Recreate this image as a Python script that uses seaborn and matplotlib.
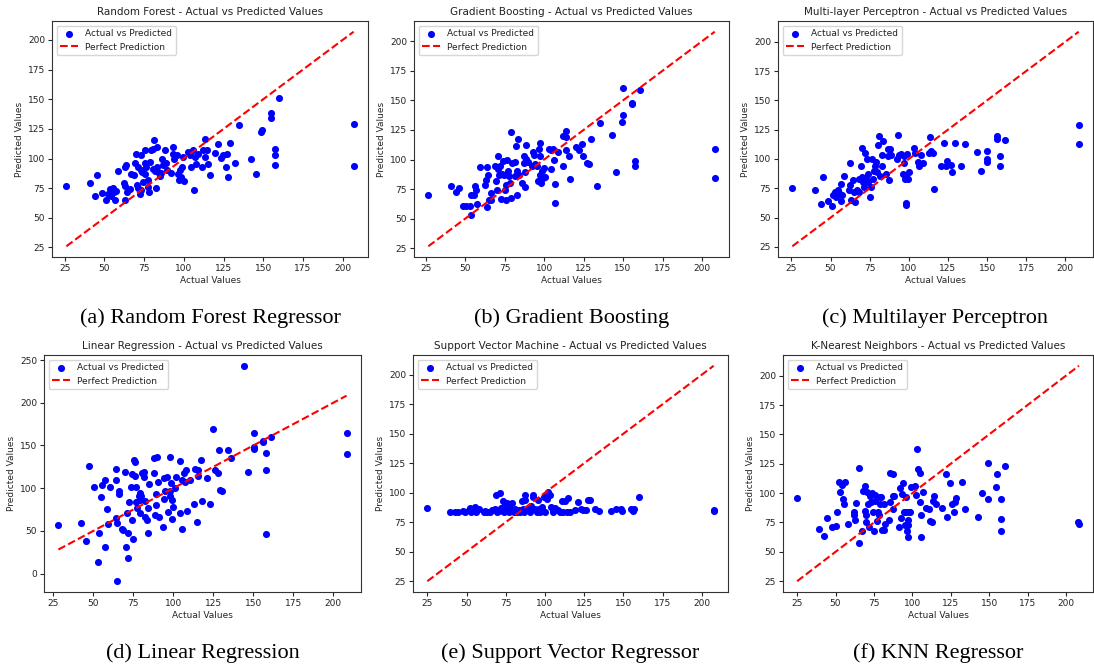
import matplotlib
matplotlib.use("Agg")
import matplotlib.pyplot as plt
import seaborn as sns

# --- DATA ---
RF_ACTUAL = [26, 40.7, 45.5, 43.9, 48.7, 51.2, 53.4, 52.2, 54.3, 55.4,
             56, 56.9, 57.3, 58.5, 62.3, 62.7, 63.1, 63.8, 63.1, 64.4,
             65.9, 66.9, 68.6, 70.1, 69.4, 71.1, 70.7, 71.1, 72.2, 73.2,
             72.8, 73.6, 74.3, 73.2, 75.4, 75.8, 76.4, 75.8, 77.1, 77.5,
             78, 78.6, 79.3, 80.8, 81.4, 80.3, 81.8, 82.8, 82.8, 83.8,
             82.4, 84.9, 85.5, 86.3, 87, 88, 88.5, 89.1, 91.8, 92.9,
             93.3, 94, 95.4, 96.1, 96.9, 98.2, 97.6, 98.6, 100.3, 99.6,
             102.7, 103.8, 104.4, 105.9, 106.5, 107, 107.4, 108.7, 111.6, 112.2,
             113.3, 113.3, 114.4, 115.4, 116.5, 119.7, 121.8, 123.4, 124.9, 126.3,
             127, 127.6, 129.1, 132.3, 134.6, 142.4, 145.2, 148.7, 149.1, 155,
             155, 157.1, 157.1, 157.1, 160.2, 206.9, 206.9]
RF_PRED = [76.9, 79, 85.9, 68, 71.3, 64.6, 74.1, 69.9, 68.5, 75.2,
           71.8, 64.8, 72.9, 89.2, 79.7, 76.9, 92.9, 94.3, 64.8, 71.8,
           74.6, 86.7, 85.9, 103.5, 96.5, 92.9, 78, 75.2, 70.4, 102.7,
           90.1, 88.7, 80.3, 73.2, 106.9, 96.5, 92.9, 87.3, 81.7, 76.1,
           71.8, 97.1, 106.9, 107.7, 115.3, 91.5, 89.2, 110, 92.9, 88.7,
           75.2, 85.3, 88.1, 99.9, 94.3, 106.9, 96.5, 90.1, 88.1, 104.1,
           109.7, 99.9, 102.7, 87.3, 81.7, 84.5, 90.1, 92.9, 80.8, 101.3,
           105.5, 102.7, 92.9, 106.9, 73.2, 101.3, 95.7, 104.1, 92.9, 106.9,
           116.2, 101.3, 106.9, 95.7, 86.4, 104.9, 112.5, 100.4, 102.7, 92.9,
           104.1, 84.5, 113.4, 96.5, 128.5, 99.9, 86.7, 122.3, 123.7, 138.3,
           134.4, 108.3, 102.7, 94.8, 150.9, 129.3, 93.7]

GB_ACTUAL = [26.7, 41, 44.1, 46, 48.7, 50.8, 52.9, 53.6, 53.6, 55.5,
             56.1, 57.1, 57.6, 59.2, 62.4, 63, 63.9, 63.9, 64.5, 65.1,
             66.6, 66.6, 68.7, 69.3, 70.2, 70.8, 70.8, 71.4, 72.3, 72.9,
             73.5, 73.9, 74.4, 75, 75.6, 75.6, 76.5, 77.1, 77.7, 78.2,
             79.2, 79.2, 79.8, 81.3, 81.3, 81.9, 82.8, 82.8, 83.4, 84,
             86.1, 87, 87, 87.6, 88.2, 88.7, 88.7, 89.8, 92.4, 92.9,
             93.3, 94.5, 95.4, 96, 96.6, 97.1, 97.5, 97.5, 98.1, 98.7,
             99.6, 100.2, 100.8, 102.9, 104.4, 104.4, 105.9, 106.5, 107.1, 107.1,
             108.6, 112.2, 112.2, 113.9, 113.9, 113.9, 116, 116.4, 120.2, 122.3,
             124, 124.8, 126.9, 128.2, 129.6, 133.2, 135.3, 143.3, 145.8, 149.6,
             150, 150, 155.5, 155.5, 157.6, 157.6, 160.9, 208, 208]
GB_PRED = [69.9, 78, 72.4, 76.3, 60.6, 60.6, 60.6, 52.8, 70.4, 70.4,
           78, 74.6, 62, 93.7, 78.9, 82.5, 93.7, 60.1, 87.3, 65.7,
           71.3, 66.2, 94.3, 81.7, 74.1, 102.7, 92, 87.3, 94.3, 66.8,
           88.1, 98.5, 87.3, 74.6, 78.9, 66.2, 99.9, 90.1, 85.9, 80.3,
           122.9, 67.6, 97.1, 97.6, 85.9, 111.1, 70.4, 90.1, 117.3, 87.3,
           80.3, 102.7, 97.1, 89.2, 76.9, 112.5, 100.4, 97.6, 94.3, 106.1,
           104.1, 96.5, 94.8, 81.7, 108.9, 102.7, 113.9, 87.3, 80.3, 90.1,
           84.5, 92.9, 85.3, 108.9, 108.3, 92, 108.9, 99.9, 63.4, 79.7,
           106.1, 94.3, 119.5, 123.7, 108.3, 119, 102.7, 83.6, 110.5, 107.7,
           113.4, 102.7, 97.1, 96.5, 117.3, 77.5, 130.7, 120.4, 89.2, 131.3,
           137.7, 160.7, 148.1, 147, 98.5, 94.8, 158.8, 108.9, 84.5]

MLP_ACTUAL = [25.6, 40.3, 43.7, 45.2, 48.3, 50.9, 51.5, 53, 53.6, 54.7,
              55.8, 56.8, 56.8, 57.2, 58.5, 62.1, 62.7, 62.7, 63.2, 64.2,
              64.9, 65.9, 67, 67.9, 68.5, 69.5, 70, 70, 70.6, 71.2,
              72.1, 72.7, 73.4, 73.8, 74.2, 74.9, 75.9, 76.3, 77, 77.6,
              78.5, 79.1, 79.7, 80.2, 81.2, 81.9, 82.7, 82.9, 83.3, 85.5,
              86.5, 86.5, 87.6, 88.2, 88.6, 92.5, 93.3, 93.9, 95, 96.1,
              96.7, 97.1, 97.5, 98.2, 98.2, 98.2, 98.8, 99.2, 100.3, 103.5,
              103.9, 105.6, 106.7, 107.7, 108.8, 113.7, 113, 114.1, 115.2, 116.2,
              120.5, 122.2, 123.7, 124.7, 126.8, 127.9, 129.4, 133.2, 135.7, 143.4,
              145.9, 149.7, 150.1, 150.1, 156.1, 156.5, 158.2, 158.2, 161.2, 208.5,
              208.5]
MLP_PRED = [75.2, 73.5, 62, 84.5, 64, 60.1, 69.6, 71.8, 67.6, 73.2,
            70.4, 64, 78.9, 69, 85.9, 73.2, 96.2, 77.5, 64.8, 81.7,
            71.8, 63.4, 73.2, 83.1, 71.8, 94.3, 109.7, 84.5, 80.3, 76.1,
            105.5, 83.9, 99.9, 80.3, 87.3, 67.6, 76.1, 99.9, 83.1, 90.1,
            94.3, 97.1, 88.7, 111.7, 119.5, 85.9, 94.3, 103.3, 115.3, 87.3,
            102.7, 108.9, 82.5, 108.9, 103.3, 99.9, 120.4, 103.3, 104.1, 87.3,
            102.7, 96.5, 83.1, 62.9, 60.6, 85.9, 104.1, 83.1, 89.2, 109.7,
            104.9, 97.6, 94.3, 103.3, 96.5, 119, 105.5, 106.9, 105.5, 74.6,
            94.3, 113.4, 94.3, 98.5, 94.8, 88.7, 113.9, 93.7, 112.5, 106.1,
            90.1, 97.6, 106.9, 100.4, 119.5, 117.3, 102.7, 93.7, 116.2, 129.3,
            112.5]

LR_ACTUAL = [28.1, 42.3, 45.5, 47.3, 50.5, 52.8, 53.6, 54.7, 55.3, 57.2,
             57.2, 58.4, 58.8, 60.5, 63.8, 64.3, 64.3, 64.7, 65.7, 66,
             64.7, 67.8, 68.4, 69.9, 70.5, 70.9, 71.4, 71.6, 72, 73.7,
             74.1, 74.1, 74.7, 75.2, 75.8, 76.2, 76.8, 76.8, 77.2, 78.2,
             78.9, 79.3, 79.3, 79.9, 80.4, 81.4, 81.4, 82.5, 82.5, 83.5,
             83.9, 83.9, 84.5, 87.6, 87.6, 88.7, 89.3, 89.3, 89.7, 90.2,
             90.8, 93.3, 93.9, 94.4, 95, 96, 96.7, 97.7, 97.7, 98.1,
             98.6, 99.2, 99.2, 99.8, 101.3, 101.9, 104, 104.3, 105.4, 105.6,
             106.9, 107.5, 108.1, 108.6, 110.2, 113.1, 113.8, 114.8, 115.3, 115.5,
             117, 118, 121.1, 123.2, 124.8, 126.3, 127.7, 128.4, 129, 130.5,
             134, 136.3, 144, 146.7, 150.7, 150.7, 150.7, 156.1, 156.1, 158.2,
             158.2, 158.2, 161.1, 208.3, 208.3]
LR_PRED = [56.9, 59.7, 38.5, 126.4, 101.3, 13.3, 47.1, 89.5, 103.6, 109.1,
           30.6, 75.7, 57.7, 101.3, 122.5, 109.9, 64.8, 59.7, 96.2, 93.4,
           -9, 51.8, 51, 118.5, 30.6, 71.4, 47.1, 17.7, 83.2, 101.3,
           116.9, 62.8, 40, 132.7, 114.6, 131.1, 101.3, 83.2, 76.5, 90.3,
           70.6, 94.2, 86.3, 90.3, 117.7, 113, 118.5, 84.4, 66.7, 62.8,
           76.5, 47.1, 105.2, 135.4, 117.7, 68.7, 92.6, 80.5, 136.6, 106.7,
           66.7, 54.2, 87.1, 111.9, 96.2, 113, 72.6, 136.6, 96.2, 91.1,
           106, 63.6, 86.3, 77.7, 100.1, 113, 131.5, 70.6, 51.8, 109.9,
           117.7, 106.7, 121.7, 73.8, 109.9, 81.2, 122.5, 60.8, 113.8, 121.7,
           133.4, 84.4, 111.9, 81.6, 169.5, 121.7, 117.7, 145.2, 98.1, 96.2,
           144.4, 135.4, 243.3, 119.3, 148.4, 164, 146, 155, 153.8, 141.3,
           121.7, 46.3, 160.1, 164.8, 140.5]

SVR_ACTUAL = [25, 39.4, 42.6, 44.5, 47.6, 49.3, 51.4, 52.1, 53.1, 54.6,
              55.7, 56.1, 57.8, 61, 62, 63.1, 65.2, 66.3, 68, 68.8,
              69.4, 70.5, 71.5, 72.2, 73, 73.7, 74.3, 75.1, 75.8, 76.8,
              77.9, 78.9, 80, 81.1, 82.1, 83.2, 84.2, 85.3, 85.7, 86.4,
              87, 87.4, 88.5, 90.6, 91.2, 92.1, 92.7, 93.8, 94.8, 95.5,
              95.9, 97, 98, 99.1, 100.1, 101.2, 102.2, 103.3, 103.9, 105,
              105.4, 106.5, 108.2, 109.7, 110.7, 111.8, 112.8, 113.9, 115, 116,
              119.2, 121.3, 123, 124.5, 126, 127.2, 128.7, 131.9, 134.6, 142,
              145, 148.4, 149.2, 154.7, 156.2, 156.8, 159.8, 207.6, 207.6]
SVR_PRED = [87.1, 83.8, 83.8, 83.8, 84.3, 83.8, 85.2, 87.1, 83.8, 84.3,
            88, 83.8, 86, 83.8, 84.3, 83.8, 83.8, 85.2, 86, 98.3,
            83.8, 84.3, 100, 87.1, 92.7, 83.8, 90, 85.2, 91.6, 83.8,
            86.6, 91.6, 83.8, 86, 83.8, 85.2, 83.8, 92.7, 86.6, 83.8,
            97.8, 93.6, 86.6, 83.8, 88.8, 97.8, 96.4, 86.6, 83.8, 93.6,
            86.6, 83.8, 88, 96.4, 83.8, 95, 100.6, 97.8, 88, 85.2,
            83.8, 87.1, 85.2, 83.8, 92.7, 83.8, 92.7, 83.8, 95.5, 83.8,
            85.2, 92.2, 86.6, 85.2, 85.2, 93.6, 93.9, 86.6, 84.3, 84.3,
            86.6, 86.6, 84.3, 86.6, 84.3, 86.6, 96.1, 84.3, 85.2]

KNN_ACTUAL = [25, 39.5, 42.6, 44.6, 47.8, 50.1, 51, 52, 52.6, 54.1,
              54.8, 55.8, 56.3, 58, 61.8, 62.6, 63.3, 62.2, 65.4, 65.4,
              67.5, 68.2, 69, 69, 69.7, 69.7, 70.7, 71.1, 71.8, 72.4,
              72.8, 73.9, 74.5, 75, 75.4, 76, 77.1, 77.5, 78.2, 78.8,
              79.2, 79.6, 80.3, 81.3, 81.3, 82.4, 84.5, 85.6, 85.6, 87.3,
              87.3, 87.7, 88.2, 91, 92, 92.6, 93, 94.1, 94.5, 95.2,
              95.8, 96.2, 96.7, 96.9, 97.3, 97.3, 98, 98.8, 99.4, 101.6,
              102.2, 103.1, 103.7, 104.7, 105.2, 105.8, 105.8, 106.9, 108.6, 111.1,
              111.5, 112.8, 113.2, 114.3, 115.4, 119.6, 121.7, 122.8, 124.3, 126,
              127.1, 127.7, 128.6, 132.4, 134.5, 142.6, 145.6, 149.4, 149.4, 154.7,
              155.3, 157.5, 157.5, 157.5, 160.4, 207.8, 208.4]
KNN_PRED = [96.1, 69.8, 63.6, 78.7, 71.2, 71.7, 84.3, 109.5, 101.1, 106.7,
            95, 90.8, 109.5, 74, 81, 76.8, 91.6, 83.8, 121.6, 57.2,
            67.5, 102, 106.2, 85.2, 81, 75.4, 100.6, 90.8, 71.2, 97.8,
            92.2, 100, 83.8, 67.5, 93.4, 98.3, 75.9, 83.8, 81, 96.5,
            90.8, 96.4, 68.4, 68.4, 90.8, 74, 76.8, 92.2, 116.8, 116,
            97.8, 86.6, 97.2, 71.2, 104, 78.7, 99.2, 108.4, 83.8, 73.1,
            96.4, 83.8, 67.5, 62.8, 76.8, 72.6, 83.8, 83.8, 104.8, 106.2,
            98.3, 137.6, 120.8, 117.4, 92.8, 81, 62.8, 100.6, 87.1, 86.6,
            75.9, 75.4, 93.4, 97.8, 90.8, 87.1, 116, 79.6, 108.4, 90.8,
            84.3, 92.7, 95.5, 109.5, 86.6, 79.6, 100, 95, 125.8, 104.8,
            116, 95, 78.2, 67.5, 123, 75.4, 74]

MODEL_NAMES = ["Random Forest", "Gradient Boosting", "Multi-layer Perceptron",
               "Linear Regression", "Support Vector Machine", "K-Nearest Neighbors"]
CAPTIONS = ["(a) Random Forest Regressor", "(b) Gradient Boosting",
            "(c) Multilayer Perceptron", "(d) Linear Regression",
            "(e) Support Vector Regressor", "(f) KNN Regressor"]
ACTUALS = [RF_ACTUAL, GB_ACTUAL, MLP_ACTUAL, LR_ACTUAL, SVR_ACTUAL, KNN_ACTUAL]
PREDS = [RF_PRED, GB_PRED, MLP_PRED, LR_PRED, SVR_PRED, KNN_PRED]

# panel boxes in pixels: left, top, right, bottom (figure is 1094 x 670)
W, H = 1094, 670
BOXES = [(52, 21, 368, 257), (414, 21, 729, 257), (778, 21, 1093, 257),
         (44, 355, 361, 592), (413, 355, 728, 592), (783, 355, 1093, 592)]
CAPTION_Y = [318, 318, 318, 653, 653, 653]

sns.set_style("ticks")
plt.rcParams['font.family'] = ['DejaVu Sans']
plt.rcParams['text.color'] = '#222222'
plt.rcParams['xtick.labelcolor'] = '#222222'
plt.rcParams['ytick.labelcolor'] = '#222222'

fig = plt.figure(figsize=(W / 100, H / 100), dpi=100)

for i in range(6):
    l, t, r, b = BOXES[i]
    ax = fig.add_axes([l / W, 1 - b / H, (r - l) / W, (b - t) / H])
    xs, ys = ACTUALS[i], PREDS[i]
    sns.scatterplot(x=xs, y=ys, ax=ax, color='blue', s=26, linewidth=0,
                    label='Actual vs Predicted')
    lo, hi = min(xs), max(xs)
    sns.lineplot(x=[lo, hi], y=[lo, hi], ax=ax, color='red', linestyle='--',
                 linewidth=1.5, label='Perfect Prediction')
    ax.set_title(f'{MODEL_NAMES[i]} - Actual vs Predicted Values', fontsize=7.5, pad=4)
    ax.set_xlabel('Actual Values', fontsize=6.5, labelpad=2)
    ax.set_ylabel('Predicted Values', fontsize=6.5, labelpad=3)
    ax.tick_params(labelsize=6.5, length=3, pad=2)
    ax.set_xticks([25, 50, 75, 100, 125, 150, 175, 200])
    for sp in ax.spines.values():
        sp.set_color('#333333')
        sp.set_linewidth(0.8)
    ax.legend(loc='upper left', fontsize=6.5, frameon=True)
    fig.text((l + r) / 2 / W, 1 - CAPTION_Y[i] / H, CAPTIONS[i],
             ha='center', va='center', fontsize=16, color='black',
             family=['Liberation Serif', 'DejaVu Serif'])

fig.savefig('out.png', dpi=100)
